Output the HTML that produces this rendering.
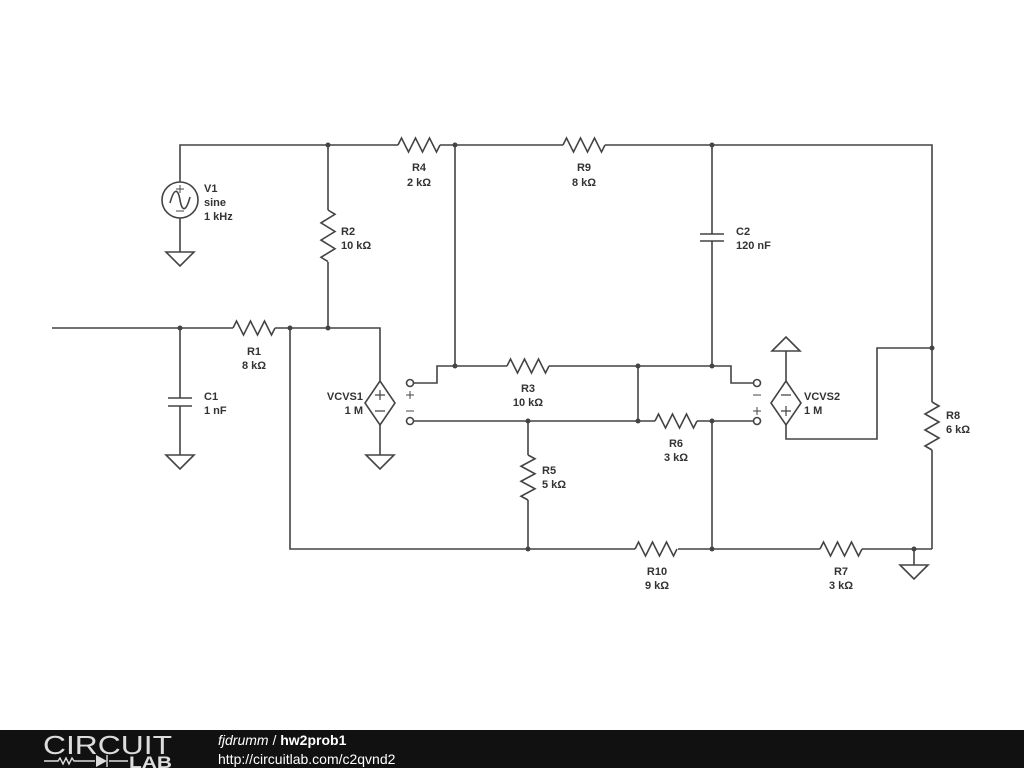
<!DOCTYPE html>
<html><head><meta charset="utf-8"><style>
html,body{margin:0;padding:0;background:#fff;}
svg{display:block}
text{font-family:"Liberation Sans",sans-serif;font-size:11px;font-weight:bold;fill:#333}
</style></head><body>
<svg width="1024" height="768" viewBox="0 0 1024 768" xmlns="http://www.w3.org/2000/svg">
<g stroke="#444" stroke-width="1.6" fill="none" stroke-linejoin="miter">
<path d="M180 182 V145 H398 M440 145 H563 M605 145 H932 V402 M932 450 V549"/>
<path d="M398 145 l3.5 -7 l7 14 l7 -14 l7 14 l7 -14 l7 14 l3.5 -7"/>
<path d="M563 145 l3.5 -7 l7 14 l7 -14 l7 14 l7 -14 l7 14 l3.5 -7"/>
<path d="M932 402 l7 4 l-14 8 l14 8 l-14 8 l14 8 l-14 8 l7 4"/>
<circle cx="180" cy="200" r="18"/>
<path d="M180 218 V252 M166 252 H194 L180 266 Z"/>
<path d="M170 203 C174 188 178 188 180 200 C182 212 186 212 190 197"/>
<path d="M180 185 V193 M176 189 H184 M176 211 H184" stroke-width="1"/>
<path d="M328 145 V210 M328 262 V328"/>
<path d="M328 210 l7 4.3 l-14 8.6 l14 8.6 l-14 8.6 l14 8.6 l-14 8.6 l7 4.3"/>
<path d="M52 328 H233 M275 328 H380 V381"/>
<path d="M233 328 l3.5 -7 l7 14 l7 -14 l7 14 l7 -14 l7 14 l3.5 -7"/>
<path d="M180 328 V398 M168 398 H192 M168 406 H192 M180 406 V455 M166 455 H194 L180 469 Z"/>
<path d="M380 381 L395 403 L380 425 L365 403 Z"/>
<path d="M380 390 V400 M375 395 H385 M375 411 H385" stroke-width="1.2"/>
<path d="M380 425 V455 M366 455 H394 L380 469 Z"/>
<circle cx="410" cy="383" r="3.5" fill="#fff"/>
<circle cx="410" cy="421" r="3.5" fill="#fff"/>
<path d="M406 395 H414 M410 391 V399 M406 411 H414" stroke-width="1"/>
<path d="M290 328 V549 H635 M678 549 H820 M862 549 H932"/>
<path d="M635 549 l3.5 -7 l7 14 l7 -14 l7 14 l7 -14 l7 14 l3.5 -7"/>
<path d="M820 549 l3.5 -7 l7 14 l7 -14 l7 14 l7 -14 l7 14 l3.5 -7"/>
<path d="M914 549 V565 M900 565 H928 L914 579 Z"/>
<path d="M455 145 V366 M414 383 H437 V366 H507 M549 366 H731 V383 H753"/>
<path d="M507 366 l3.5 -7 l7 14 l7 -14 l7 14 l7 -14 l7 14 l3.5 -7"/>
<path d="M712 145 V234 M700 234 H724 M700 241 H724 M712 241 V366"/>
<path d="M638 366 V421"/>
<path d="M414 421 H655 M697 421 H753 M712 421 V549 M528 421 V455 M528 500 V549"/>
<path d="M655 421 l3.5 -7 l7 14 l7 -14 l7 14 l7 -14 l7 14 l3.5 -7"/>
<path d="M528 455 l7 3.75 l-14 7.5 l14 7.5 l-14 7.5 l14 7.5 l-14 7.5 l7 3.75"/>
<circle cx="757" cy="383" r="3.5" fill="#fff"/>
<circle cx="757" cy="421" r="3.5" fill="#fff"/>
<path d="M753 395 H761 M753 411 H761 M757 407 V415" stroke-width="1"/>
<path d="M786 381 L801 403 L786 425 L771 403 Z"/>
<path d="M781 395 H791 M781 411 H791 M786 406 V416" stroke-width="1.2"/>
<path d="M786 381 V351 M772 351 H800 L786 337 Z"/>
<path d="M786 425 V439 H877 V348 H932"/>
</g>
<g fill="#444">
<circle cx="328" cy="145" r="2.5"/><circle cx="455" cy="145" r="2.5"/><circle cx="712" cy="145" r="2.5"/>
<circle cx="180" cy="328" r="2.5"/><circle cx="290" cy="328" r="2.5"/><circle cx="328" cy="328" r="2.5"/>
<circle cx="455" cy="366" r="2.5"/><circle cx="638" cy="366" r="2.5"/><circle cx="712" cy="366" r="2.5"/>
<circle cx="528" cy="421" r="2.5"/><circle cx="638" cy="421" r="2.5"/><circle cx="712" cy="421" r="2.5"/>
<circle cx="932" cy="348" r="2.5"/><circle cx="528" cy="549" r="2.5"/><circle cx="712" cy="549" r="2.5"/><circle cx="914" cy="549" r="2.5"/>
</g>
<text x="204" y="192">V1</text><text x="204" y="206">sine</text><text x="204" y="220">1 kHz</text>
<text x="341" y="235">R2</text><text x="341" y="249">10 kΩ</text>
<text x="419" y="171" text-anchor="middle">R4</text><text x="419" y="186" text-anchor="middle">2 kΩ</text>
<text x="584" y="171" text-anchor="middle">R9</text><text x="584" y="186" text-anchor="middle">8 kΩ</text>
<text x="736" y="235">C2</text><text x="736" y="249">120 nF</text>
<text x="254" y="355" text-anchor="middle">R1</text><text x="254" y="369" text-anchor="middle">8 kΩ</text>
<text x="204" y="400">C1</text><text x="204" y="414">1 nF</text>
<text x="363" y="400" text-anchor="end">VCVS1</text><text x="363" y="414" text-anchor="end">1 M</text>
<text x="528" y="392" text-anchor="middle">R3</text><text x="528" y="406" text-anchor="middle">10 kΩ</text>
<text x="676" y="447" text-anchor="middle">R6</text><text x="676" y="461" text-anchor="middle">3 kΩ</text>
<text x="804" y="400">VCVS2</text><text x="804" y="414">1 M</text>
<text x="946" y="419">R8</text><text x="946" y="433">6 kΩ</text>
<text x="542" y="474">R5</text><text x="542" y="488">5 kΩ</text>
<text x="657" y="575" text-anchor="middle">R10</text><text x="657" y="589" text-anchor="middle">9 kΩ</text>
<text x="841" y="575" text-anchor="middle">R7</text><text x="841" y="589" text-anchor="middle">3 kΩ</text>
<rect x="0" y="730" width="1024" height="38" fill="#111"/>
<text x="43" y="754" textLength="129" lengthAdjust="spacingAndGlyphs" style="font-size:26px;font-weight:normal;fill:#ddd">CIRCUIT</text>
<g stroke="#ddd" stroke-width="1.4" fill="none">
<path d="M44 761 H58 l2 -3 l3 6 l3 -6 l3 6 l3 -6 l2 3 H95 M107 755 V767 M109 761 H128"/>
</g>
<path d="M96 755 L107 761 L96 767 Z" fill="#ddd"/>
<text x="129" y="768" textLength="43" lengthAdjust="spacingAndGlyphs" style="font-size:17px;font-weight:bold;fill:#ddd">LAB</text>
<text x="218" y="745" style="font-size:14px;font-weight:normal;fill:#fff"><tspan font-style="italic">fjdrumm</tspan> / <tspan font-weight="bold">hw2prob1</tspan></text>
<text x="218" y="764" style="font-size:14px;font-weight:normal;fill:#fff">http://circuitlab.com/c2qvnd2</text>
</svg>
</body></html>
